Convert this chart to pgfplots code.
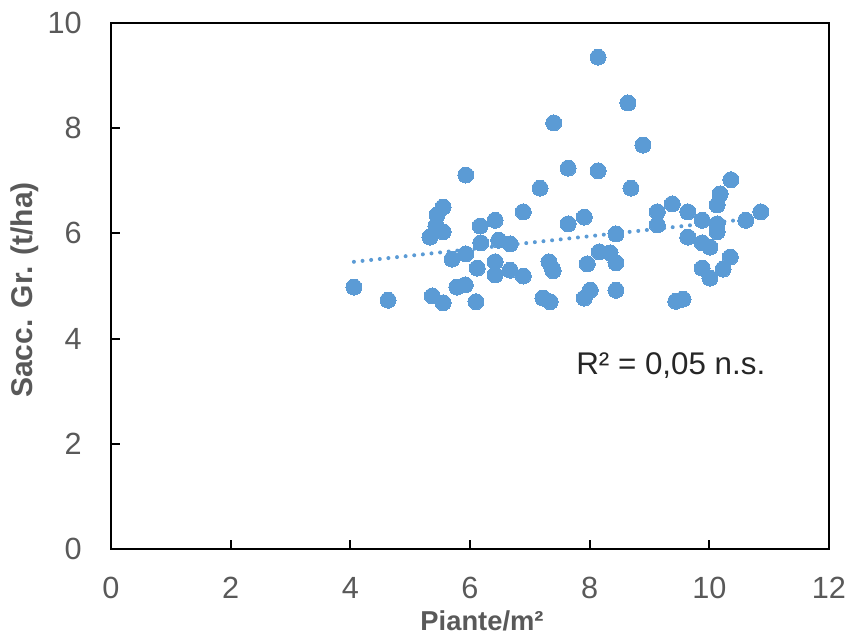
\documentclass[border=0pt]{standalone}
\usepackage{fontspec}
\setmainfont{Liberation Sans}
\usepackage{pgfplots}
\pgfplotsset{compat=1.18}
\definecolor{ptblue}{RGB}{91,155,213}
\definecolor{lblgray}{RGB}{89,89,89}
\begin{document}
\begin{tikzpicture}
\begin{axis}[
  scale only axis,
  width=538.5pt, height=394.5pt,
  xmin=0, xmax=12, ymin=0, ymax=10,
  xtick={0,2,...,12}, ytick={0,2,...,10},
  xtick pos=lower, ytick pos=left,
  tick align=inside,
  major tick length=6.75pt,
  every tick/.style={black, line width=1.5pt},
  axis line style={black, line width=1.5pt},
  /pgf/number format/assume math mode=true,
  tick label style={font=\fontsize{23}{27}\selectfont, text=lblgray, inner sep=0pt},
  xticklabel style={anchor=center, yshift=-29.25pt},
  yticklabel style={anchor=east, xshift=-21.75pt},
  xlabel={Piante/m²},
  ylabel={Sacc. Gr. (t/ha)},
  xlabel style={font=\bfseries\fontsize{20.5}{24}\selectfont, text=lblgray, at={(axis description cs:0.5,0)}, anchor=base, yshift=-61.5pt, xshift=9pt, inner sep=0pt},
  ylabel style={font=\bfseries\fontsize{22.5}{26}\selectfont, text=lblgray, at={([xshift=-58.5pt]axis description cs:0,0.4924)}, anchor=base, inner sep=0pt},
  clip=false,
]
\addplot[ptblue, line width=3pt, line cap=round, dash pattern=on 0pt off 6.5pt] coordinates {(4.06,5.46) (10.86,6.30)};
\addplot[only marks, mark=*, mark size=6pt, mark options={fill=ptblue, draw=ptblue, line width=0pt}] table {
x y
4.06 4.98
4.63 4.73
5.37 4.81
5.55 4.68
5.33 5.93
5.45 6.35
5.43 6.14
5.55 6.50
5.55 6.03
5.70 5.51
5.78 4.98
5.92 5.02
5.93 7.11
5.93 5.61
6.10 4.70
6.12 5.34
6.17 6.14
6.18 5.82
6.42 6.25
6.42 5.46
6.42 5.21
6.48 5.87
6.67 5.80
6.67 5.30
6.89 6.41
6.89 5.19
7.17 6.86
7.22 4.77
7.34 4.70
7.32 5.46
7.37 5.34
7.39 5.29
7.40 8.10
7.64 7.24
7.64 6.18
7.91 6.31
7.91 4.77
7.96 5.42
8.01 4.92
8.14 9.35
8.14 7.19
8.16 5.65
8.34 5.63
8.44 5.99
8.44 5.44
8.44 4.92
8.64 8.48
8.69 6.86
8.89 7.68
9.13 6.41
9.13 6.16
9.38 6.56
9.44 4.71
9.56 4.75
9.64 6.41
9.64 5.93
9.88 6.25
9.88 5.82
9.88 5.34
10.01 5.74
10.01 5.15
10.13 6.54
10.13 6.18
10.13 6.03
10.18 6.75
10.23 5.32
10.35 5.55
10.36 7.02
10.61 6.25
10.86 6.41
};
\node[anchor=base west, inner sep=0pt, text={rgb,255:red,38;green,38;blue,38}, font=\fontsize{23.5}{28}\selectfont] at (axis cs:7.772,3.308) {R² = 0,05 n.s.};
\end{axis}
\path[use as bounding box] (-83.25pt,-69.75pt) rectangle (554.25pt,411.75pt);
\end{tikzpicture}
\end{document}
